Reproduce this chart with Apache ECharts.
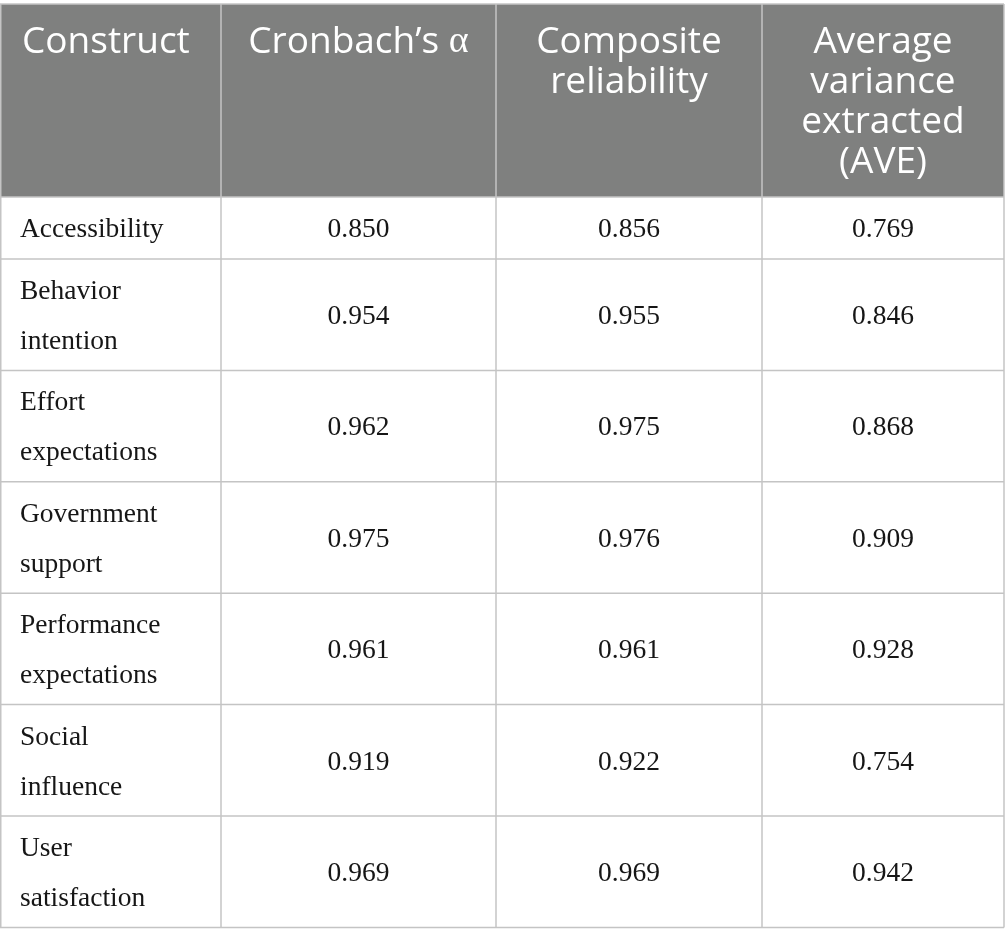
<!DOCTYPE html>
<html>
<head>
<meta charset="utf-8">
<script src="https://cdn.jsdelivr.net/npm/echarts@6/dist/echarts.min.js"></script>
<style>
  html, body { margin: 0; padding: 0; background: #fff; }
  #chart-content { width: 1005px; height: 946px; }
</style>
</head>
<body>
<div id="chart-content"></div>
<script>
var headers = ["Construct", "Cronbach\u2019s {g|\u03b1}", "Composite\nreliability", "Average\nvariance\nextracted\n(AVE)"];
var constructs = ["Accessibility", "Behavior\nintention", "Effort\nexpectations", "Government\nsupport",
  "Performance\nexpectations", "Social\ninfluence", "User\nsatisfaction"];
var cronbachAlpha = [0.850, 0.954, 0.962, 0.975, 0.961, 0.919, 0.969];
var compositeReliability = [0.856, 0.955, 0.975, 0.976, 0.961, 0.922, 0.969];
var aveValues = [0.769, 0.846, 0.868, 0.909, 0.928, 0.754, 0.942];

var myChart = echarts.init(document.getElementById("chart-content"));

// table layout
var colEdges = [0, 221, 496, 762, 1004];
var tableTop = 4, headerH = 193;
var lineBorder = "#c4c4c4";
var headFont = "'Open Sans', sans-serif";
var bodyFont = "'Liberation Serif', serif";

var elements = [];
var columns = [constructs, cronbachAlpha, compositeReliability, aveValues];

// header background
elements.push({
  type: "rect",
  shape: { x: colEdges[0], y: tableTop, width: colEdges[4] - colEdges[0], height: headerH },
  style: { fill: "#7f807f" }
});
headers.forEach(function (h, i) {
  var left = i === 0;
  elements.push({
    type: "text",
    x: left ? colEdges[i] + 22 : (colEdges[i] + colEdges[i + 1]) / 2,
    y: tableTop + 18,
    style: {
      text: h,
      fill: "#ffffff",
      fontFamily: headFont,
      fontSize: 37,
      lineHeight: 40,
      align: left ? "left" : "center",
      verticalAlign: "top",
      rich: {
        g: { fontFamily: bodyFont, fontSize: 38, fill: "#ffffff", lineHeight: 40 }
      }
    }
  });
});

// body rows
var rowY = tableTop + headerH;
var rowEdges = [rowY];
constructs.forEach(function (name, r) {
  var lines = name.split("\n").length;
  var h = lines > 1 ? 111.4 : 62;
  var cy = rowY + h / 2;
  columns.forEach(function (col, c) {
    var isName = c === 0;
    elements.push({
      type: "text",
      x: isName ? colEdges[c] + 20 : (colEdges[c] + colEdges[c + 1]) / 2,
      y: cy + 2,
      style: {
        text: isName ? col[r] : col[r].toFixed(3),
        fill: "#161616",
        fontFamily: bodyFont,
        fontSize: 27.5,
        lineHeight: 50,
        align: isName ? "left" : "center",
        verticalAlign: "middle"
      }
    });
  });
  rowY += h;
  rowEdges.push(rowY);
});

// grid lines
var tableBottom = rowEdges[rowEdges.length - 1];
elements.push({
  type: "line",
  shape: { x1: colEdges[0], y1: tableTop, x2: colEdges[4], y2: tableTop },
  style: { stroke: lineBorder, lineWidth: 1.5 }
});
rowEdges.forEach(function (ry) {
  elements.push({
    type: "line",
    shape: { x1: colEdges[0], y1: ry, x2: colEdges[4], y2: ry },
    style: { stroke: lineBorder, lineWidth: 1.5 }
  });
});
colEdges.forEach(function (cx, i) {
  var px = cx + (i === 0 ? 0.75 : 0);
  elements.push({
    type: "line",
    shape: { x1: px, y1: tableTop, x2: px, y2: tableBottom },
    style: { stroke: lineBorder, lineWidth: 1.5 }
  });
});

var option = {
  backgroundColor: "#ffffff",
  animation: false,
  graphic: { elements: elements }
};

myChart.setOption(option);
</script>
</body>
</html>
